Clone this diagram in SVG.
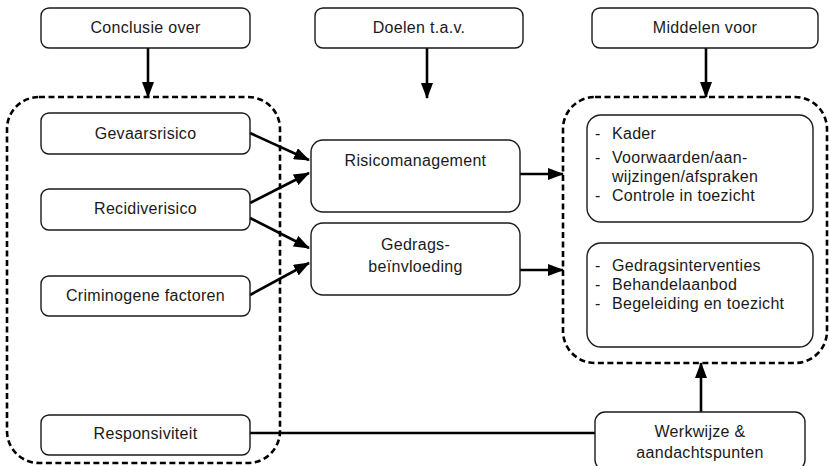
<svg xmlns="http://www.w3.org/2000/svg" width="829" height="466" viewBox="0 0 829 466">
<style>
.box{fill:#fff;stroke:#1a1a1a;stroke-width:1.4}
.grp{fill:none;stroke:#000;stroke-width:2.6;stroke-dasharray:6 3.5}
.t{font-family:"Liberation Sans",Arial,sans-serif;font-size:16px;fill:#1a1a1a;letter-spacing:0.3px}
.c{text-anchor:middle}
.ln{fill:none;stroke:#000;stroke-width:2.6}
</style>
<defs>
<marker id="ah" markerUnits="userSpaceOnUse" markerWidth="16" markerHeight="12" viewBox="0 0 16 12" refX="15" refY="6" orient="auto">
<path d="M0,0 L16,6 L0,12 Z" fill="#000"/>
</marker>
</defs>
<rect width="829" height="466" fill="#fff"/>
<g id="groups">
<rect id="group-left" class="grp" x="7" y="97" width="273" height="366" rx="32"/>
<rect id="group-right" class="grp" x="563" y="97" width="264" height="266" rx="32"/>
</g>
<g id="connectors">
<line class="ln" x1="148" y1="48" x2="148" y2="97" marker-end="url(#ah)"/>
<line class="ln" x1="427" y1="48" x2="427" y2="98" marker-end="url(#ah)"/>
<line class="ln" x1="706" y1="48" x2="706" y2="97" marker-end="url(#ah)"/>
<line class="ln" x1="250" y1="133" x2="309" y2="160" marker-end="url(#ah)"/>
<line class="ln" x1="250" y1="203" x2="309" y2="173" marker-end="url(#ah)"/>
<line class="ln" x1="250" y1="218" x2="309" y2="248" marker-end="url(#ah)"/>
<line class="ln" x1="250" y1="295" x2="309" y2="263" marker-end="url(#ah)"/>
<line class="ln" x1="520" y1="174" x2="563" y2="174" marker-end="url(#ah)"/>
<line class="ln" x1="520" y1="270" x2="563" y2="270" marker-end="url(#ah)"/>
<line class="ln" x1="701" y1="412" x2="701" y2="363" marker-end="url(#ah)"/>
<line class="ln" x1="250" y1="433" x2="595" y2="433"/>
</g>
<g id="conclusie">
<rect class="box" x="41" y="8" width="209" height="40" rx="8"/>
<text class="t c" x="145.5" y="33">Conclusie over</text>
</g>
<g id="doelen">
<rect class="box" x="315" y="8" width="208" height="40" rx="8"/>
<text class="t c" x="419" y="33">Doelen t.a.v.</text>
</g>
<g id="middelen">
<rect class="box" x="592" y="8" width="226" height="40" rx="8"/>
<text class="t c" x="705" y="33">Middelen voor</text>
</g>
<g id="gevaarsrisico">
<rect class="box" x="41" y="113" width="209" height="41" rx="8"/>
<text class="t c" x="145.5" y="139">Gevaarsrisico</text>
</g>
<g id="recidiverisico">
<rect class="box" x="41" y="189" width="209" height="41" rx="8"/>
<text class="t c" x="145.5" y="214">Recidiverisico</text>
</g>
<g id="criminogene">
<rect class="box" x="41" y="276" width="209" height="40" rx="8"/>
<text class="t c" x="145.5" y="301">Criminogene factoren</text>
</g>
<g id="responsiviteit">
<rect class="box" x="41" y="415" width="209" height="40" rx="8"/>
<text class="t c" x="145.5" y="439">Responsiviteit</text>
</g>
<g id="risicomanagement">
<rect class="box" x="311" y="140" width="209" height="72" rx="12"/>
<text class="t c" x="415.5" y="166">Risicomanagement</text>
</g>
<g id="gedragsbeinvloeding">
<rect class="box" x="311" y="223" width="209" height="72" rx="12"/>
<text class="t c" x="415.5" y="250">Gedrags-</text>
<text class="t c" x="415.5" y="272">beïnvloeding</text>
</g>
<g id="middelen-risico">
<rect class="box" x="587" y="115" width="226" height="107" rx="14"/>
<text class="t" x="595" y="139">-</text><text class="t" x="612" y="139">Kader</text>
<text class="t" x="595" y="163">-</text><text class="t" x="612" y="163">Voorwaarden/aan-</text>
<text class="t" x="612" y="182">wijzingen/afspraken</text>
<text class="t" x="595" y="201">-</text><text class="t" x="612" y="201">Controle in toezicht</text>
</g>
<g id="middelen-gedrag">
<rect class="box" x="587" y="243" width="226" height="104" rx="14"/>
<text class="t" x="595" y="271">-</text><text class="t" x="612" y="271">Gedragsinterventies</text>
<text class="t" x="595" y="290">-</text><text class="t" x="612" y="290">Behandelaanbod</text>
<text class="t" x="595" y="309">-</text><text class="t" x="612" y="309">Begeleiding en toezicht</text>
</g>
<g id="werkwijze">
<rect class="box" x="595" y="412" width="210" height="58" rx="10"/>
<text class="t c" x="700" y="437">Werkwijze &amp;</text>
<text class="t c" x="700" y="458">aandachtspunten</text>
</g>
</svg>
